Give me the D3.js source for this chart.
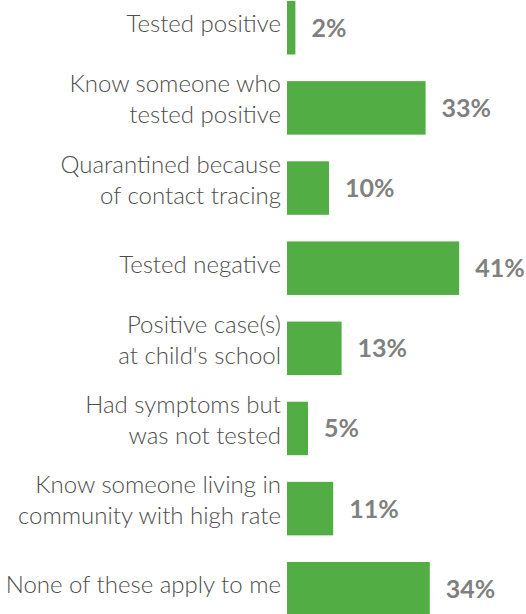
<!DOCTYPE html>
<html><head><meta charset="utf-8">
<script src="https://cdn.jsdelivr.net/npm/d3@7"></script>
<style>
html,body{margin:0;padding:0;background:#fff;}
svg{display:block;}
</style></head>
<body>
<svg id="chart" width="526" height="614"></svg>
<script>
const categories = [
  "Tested positive",
  "Know someone who\ntested positive",
  "Quarantined because\nof contact tracing",
  "Tested negative",
  "Positive case(s)\nat child's school",
  "Had symptoms but\nwas not tested",
  "Know someone living in\ncommunity with high rate",
  "None of these apply to me"
];
const values = [2, 33, 10, 41, 13, 5, 11, 34];
const valueLabels = ["2%", "33%", "10%", "41%", "13%", "5%", "11%", "34%"];

const svg = d3.select("#chart");
const x = d3.scaleLinear().domain([0, 50]).range([287, 497]);
const y = d3.scaleBand().domain(categories).range([1, 615.5]).paddingInner(0.3324).paddingOuter(0);

const data = categories.map((c, i) => ({c, v: values[i], l: valueLabels[i]}));

svg.selectAll("rect.bar").data(data).join("rect")
  .attr("class", "bar")
  .attr("x", x(0))
  .attr("y", d => y(d.c))
  .attr("width", d => x(d.v) - x(0))
  .attr("height", y.bandwidth())
  .attr("fill", "#52ae44");

svg.selectAll("text.val").data(data).join("text")
  .attr("class", "val")
  .attr("x", d => x(d.v) + 16)
  .attr("y", d => y(d.c) + y.bandwidth() / 2 + 9)
  .attr("font-family", "Lato, sans-serif")
  .attr("font-weight", 700)
  .attr("font-size", 25)
  .attr("fill", "#808080")
  .text(d => d.l);

const cats = svg.selectAll("text.cat").data(data).join("text")
  .attr("class", "cat")
  .attr("text-anchor", "end")
  .attr("font-family", "Lato, sans-serif")
  .attr("font-weight", 300)
  .attr("font-size", 24)
  .attr("fill", "#4d4d4d");

cats.each(function(d) {
  const lines = d.c.split("\n");
  const cy = y(d.c) + y.bandwidth() / 2;
  const t = d3.select(this);
  if (lines.length === 1) {
    t.append("tspan").attr("x", 281).attr("y", cy + 4.5).text(lines[0]);
  } else {
    lines.forEach((ln, i) => {
      t.append("tspan").attr("x", 281).attr("y", cy - 15.5 + i * 31).text(ln);
    });
  }
});
</script>
</body></html>
